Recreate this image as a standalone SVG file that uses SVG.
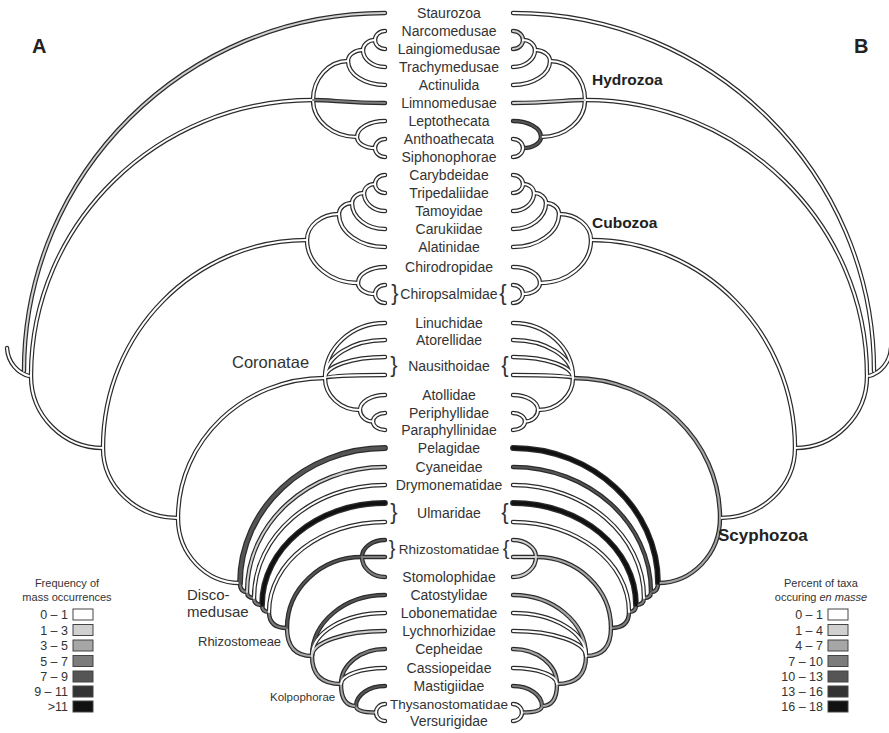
<svg xmlns="http://www.w3.org/2000/svg" xmlns:xlink="http://www.w3.org/1999/xlink" width="889" height="733" viewBox="0 0 889 733">
<style>
.o{fill:none;stroke:#2b2b2b;stroke-width:4.4;stroke-linecap:round;stroke-linejoin:round}
.i{fill:none;stroke:#fff;stroke-width:2;stroke-linecap:round;stroke-linejoin:round}
.o .w{stroke-width:5.8}
.i .w{stroke-width:3.4}
.k0{stroke:#fff}.k1{stroke:#d0d0d0}.k2{stroke:#a6a6a6}.k3{stroke:#7c7c7c}.k4{stroke:#555}.k5{stroke:#333}.k6{stroke:#111}
.t{font-family:"Liberation Sans",Arial,sans-serif;font-size:14px;fill:#333;text-anchor:middle}
.br{font-family:"Liberation Sans",Arial,sans-serif;font-size:22px;fill:#333;text-anchor:middle}
.g{font-family:"Liberation Sans",Arial,sans-serif;fill:#222;font-weight:bold}
.c{font-family:"Liberation Sans",Arial,sans-serif;fill:#333}
.lg{font-family:"Liberation Sans",Arial,sans-serif;font-size:11px;fill:#333;text-anchor:middle}
.lv{font-family:"Liberation Sans",Arial,sans-serif;font-size:12.5px;fill:#333;text-anchor:end}
.bx{stroke:#444;stroke-width:1}
</style>
<defs>
<path id="st" d="M385,13 C185.7,13 24,173.4 24,371"/>
<path id="rt" d="M29,376 C18,373 8,363 7,348"/>
<path id="mz" d="M313,100 C157.3,100 31,223.6 31,376 C31,415.7 63.3,448 103,448"/>
<path id="ac" d="M307,240 C194.4,240 103,333.2 103,448 C103,486.6 136.6,518 178,518"/>
<path id="sc" d="M325,378 C243.9,378 178,440.7 178,518 C178,553.9 205.8,583 240,583"/>
<path id="h1" d="M385,31 C379.5,31 375,35 375,40 C375,45 379.5,49 385,49"/>
<path id="h2" d="M375,40 C368.4,40 363,44.5 363,50 C363,59.4 372.9,67 385,67"/>
<path id="h3" d="M363,50 C354.7,50 348,54.9 348,61 C348,74.2 364.6,85 385,85"/>
<path id="hy" d="M348,61 C328.7,61 313,78.5 313,100 C313,120.4 332.7,137 357,137"/>
<path id="lm" d="M385,103 C350,103 330,100 313,100"/>
<path id="h4" d="M385,121 C369.5,121 357,128.2 357,137 C357,143.1 365.1,148 375,148"/>
<path id="h5" d="M385,139 C379.5,139 375,143 375,148 C375,153 379.5,157 385,157"/>
<path id="u1" d="M385,175 C379.5,175 375,179 375,184 C375,189 379.5,193 385,193"/>
<path id="u2" d="M375,184 C368.9,184 364,188 364,193 C364,202.9 373.4,211 385,211"/>
<path id="u3" d="M364,193 C357.4,193 352,197.5 352,203 C352,217.4 366.8,229 385,229"/>
<path id="u4" d="M352,203 C344.8,203 339,207.9 339,214 C339,232.2 359.6,247 385,247"/>
<path id="cu" d="M339,214 C321.3,214 307,225.6 307,240 C307,263.7 329.8,283 358,283"/>
<path id="u6" d="M385,267 C370.1,267 358,274.2 358,283 C358,289.1 365.6,294 375,294"/>
<path id="u5" d="M385,285 C379.5,285 375,289 375,294 C375,299 379.5,303 385,303"/>
<path id="co1" d="M385,323 C351.9,323 325,347.6 325,378"/>
<path id="co2" d="M385,340 C351.9,340 325,357 325,378"/>
<path id="co3" d="M385,357 C351.9,357 325,366.4 325,378"/>
<path id="co4" d="M385,375 C351.9,375 325,376.3 325,378"/>
<path id="co5" d="M325,378 C325,395.7 340.7,410 360,410"/>
<path id="co6" d="M385,395 C371.2,395 360,401.7 360,410 C360,416.1 365.8,421.5 373,421.5"/>
<path id="co7" d="M385,413 C378.4,413 373,416.8 373,421.5 C373,426.2 378.4,430 385,430"/>
<path id="d0" d="M385,448 C305,448 240,508.5 240,583"/>
<path id="d1" d="M385,467 C308.8,467 247,523 247,592"/>
<path id="d2" d="M385,485 C312.7,485 254,535.6 254,598"/>
<path id="d3" d="M385,503 C317.1,503 262,548.7 262,605"/>
<path id="d4" d="M385,522 C321,522 269,562.3 269,612"/>
<path id="d5" d="M362,557 C320.6,557 287,588.8 287,628"/>
<path id="ra" d="M385,540 C372.3,540 362,547.6 362,557"/>
<path id="rb" d="M362,557 C362,568 372.3,577 385,577"/>
<path id="rc" d="M385,557 L362,557"/>
<path id="s1" d="M240,583 Q240,592 247,592 Q247,598 254,598 Q254,605 262,605 Q262,612 269,612 Q269,628 287,628"/>
<path id="s2" d="M287,628 Q287,656 312,656 Q312,684 341,684 Q341,706 356,706 Q356,712.5 376,712.5"/>
<path id="e1" d="M385,595 C344.7,595 312,622.3 312,656"/>
<path id="e2" d="M385,613 C344.7,613 312,632.3 312,656"/>
<path id="e3" d="M385,631 C344.7,631 312,642.2 312,656"/>
<path id="e4" d="M385,649 C360.7,649 341,664.7 341,684"/>
<path id="e5" d="M385,668 C360.7,668 341,675.2 341,684"/>
<path id="e6" d="M385,686 C369,686 356,695 356,706"/>
<path id="e7" d="M385,704 C380,704 376,707.8 376,712.5 C376,717.2 380,721 385,721"/>
</defs>
<rect width="889" height="733" fill="#fff"/>
<g id="connectors">
<g id="tree-A">
<g class="o">
<use href="#st"/><use href="#rt"/><use href="#mz"/><use href="#ac"/><use href="#sc"/>
<use href="#h1"/><use href="#h2"/><use href="#h3"/><use href="#hy"/><use href="#lm"/><use href="#h4"/><use href="#h5"/>
<use href="#u1"/><use href="#u2"/><use href="#u3"/><use href="#u4"/><use href="#cu"/><use href="#u6"/><use href="#u5"/>
<use href="#co1"/><use href="#co2"/><use href="#co3"/><use href="#co4"/><use href="#co5"/><use href="#co6"/><use href="#co7"/>
<use href="#d0" class="w"/><use href="#d1"/><use href="#d2"/><use href="#d3" class="w"/><use href="#d4"/><use href="#d5"/>
<use href="#ra"/><use href="#rb"/><use href="#rc"/><use href="#s1"/><use href="#s2"/>
<use href="#e1"/><use href="#e2"/><use href="#e3"/><use href="#e4"/><use href="#e5"/><use href="#e6"/><use href="#e7"/>
</g>
<g class="i">
<use href="#st" class="k1"/><use href="#rt" class="k0"/><use href="#mz" class="k0"/><use href="#ac" class="k0"/><use href="#sc" class="k0"/>
<use href="#h1" class="k0"/><use href="#h2" class="k0"/><use href="#h3" class="k0"/><use href="#hy" class="k0"/><use href="#lm" class="k3"/><use href="#h4" class="k0"/><use href="#h5" class="k0"/>
<use href="#u1" class="k0"/><use href="#u2" class="k0"/><use href="#u3" class="k0"/><use href="#u4" class="k0"/><use href="#cu" class="k0"/><use href="#u6" class="k0"/><use href="#u5" class="k0"/>
<use href="#co1" class="k0"/><use href="#co2" class="k0"/><use href="#co3" class="k0"/><use href="#co4" class="k0"/><use href="#co5" class="k0"/><use href="#co6" class="k0"/><use href="#co7" class="k0"/>
<use href="#s1" class="k3"/><use href="#s2" class="k2"/>
<use href="#d0" class="k4 w"/><use href="#d1" class="k1"/><use href="#d2" class="k0"/><use href="#d3" class="k6 w"/><use href="#d4" class="k0"/><use href="#d5" class="k4"/>
<use href="#ra" class="k4"/><use href="#rb" class="k3"/><use href="#rc" class="k3"/>
<use href="#e1" class="k4"/><use href="#e2" class="k0"/><use href="#e3" class="k1"/><use href="#e4" class="k3"/><use href="#e5" class="k0"/><use href="#e6" class="k4"/><use href="#e7" class="k0"/>
</g>
</g>
<g id="tree-B" transform="matrix(-1 0 0 1 898 0)">
<g class="o">
<use href="#st"/><use href="#rt"/><use href="#mz"/><use href="#ac"/><use href="#sc"/>
<use href="#h1"/><use href="#h2"/><use href="#h3"/><use href="#hy"/><use href="#lm"/><use href="#h4"/><use href="#h5"/>
<use href="#u1"/><use href="#u2"/><use href="#u3"/><use href="#u4"/><use href="#cu"/><use href="#u6"/><use href="#u5"/>
<use href="#co1"/><use href="#co2"/><use href="#co3"/><use href="#co4"/><use href="#co5"/><use href="#co6"/><use href="#co7"/>
<use href="#d0" class="w"/><use href="#d1"/><use href="#d2"/><use href="#d3" class="w"/><use href="#d4"/><use href="#d5"/>
<use href="#ra"/><use href="#rb"/><use href="#rc"/><use href="#s1"/><use href="#s2"/>
<use href="#e1"/><use href="#e2"/><use href="#e3"/><use href="#e4"/><use href="#e5"/><use href="#e6"/><use href="#e7"/>
</g>
<g class="i">
<use href="#st" class="k0"/><use href="#rt" class="k0"/><use href="#mz" class="k0"/><use href="#ac" class="k0"/><use href="#sc" class="k2"/>
<use href="#h1" class="k1"/><use href="#h2" class="k0"/><use href="#h3" class="k0"/><use href="#hy" class="k0"/><use href="#lm" class="k1"/><use href="#h4" class="k4"/><use href="#h5" class="k0"/>
<use href="#u1" class="k0"/><use href="#u2" class="k0"/><use href="#u3" class="k0"/><use href="#u4" class="k0"/><use href="#cu" class="k0"/><use href="#u6" class="k0"/><use href="#u5" class="k0"/>
<use href="#co1" class="k0"/><use href="#co2" class="k0"/><use href="#co3" class="k0"/><use href="#co4" class="k0"/><use href="#co5" class="k0"/><use href="#co6" class="k0"/><use href="#co7" class="k0"/>
<use href="#s1" class="k3"/><use href="#s2" class="k2"/>
<use href="#d0" class="k6 w"/><use href="#d1" class="k4"/><use href="#d2" class="k0"/><use href="#d3" class="k6 w"/><use href="#d4" class="k0"/><use href="#d5" class="k2"/>
<use href="#ra" class="k1"/><use href="#rb" class="k1"/><use href="#rc" class="k1"/>
<use href="#e1" class="k2"/><use href="#e2" class="k0"/><use href="#e3" class="k0"/><use href="#e4" class="k2"/><use href="#e5" class="k0"/><use href="#e6" class="k3"/><use href="#e7" class="k0"/>
</g>
</g>
</g>
<g id="taxa">
<g id="n-staurozoa"><text class="t" x="449" y="18">Staurozoa</text></g>
<g id="n-narcomedusae"><text class="t" x="449" y="36">Narcomedusae</text></g>
<g id="n-laingiomedusae"><text class="t" x="449" y="54">Laingiomedusae</text></g>
<g id="n-trachymedusae"><text class="t" x="449" y="72">Trachymedusae</text></g>
<g id="n-actinulida"><text class="t" x="449" y="90">Actinulida</text></g>
<g id="n-limnomedusae"><text class="t" x="449" y="108">Limnomedusae</text></g>
<g id="n-leptothecata"><text class="t" x="449" y="126">Leptothecata</text></g>
<g id="n-anthoathecata"><text class="t" x="449" y="144">Anthoathecata</text></g>
<g id="n-siphonophorae"><text class="t" x="449" y="162">Siphonophorae</text></g>
<g id="n-carybdeidae"><text class="t" x="449" y="180">Carybdeidae</text></g>
<g id="n-tripedaliidae"><text class="t" x="449" y="198">Tripedaliidae</text></g>
<g id="n-tamoyidae"><text class="t" x="449" y="216">Tamoyidae</text></g>
<g id="n-carukiidae"><text class="t" x="449" y="234">Carukiidae</text></g>
<g id="n-alatinidae"><text class="t" x="449" y="252">Alatinidae</text></g>
<g id="n-chirodropidae"><text class="t" x="449" y="272">Chirodropidae</text></g>
<g id="n-chiropsalmidae"><text class="br" x="395" y="300">}</text><text class="t" x="449" y="299">Chiropsalmidae</text><text class="br" x="503" y="300">{</text></g>
<g id="n-linuchidae"><text class="t" x="449" y="328">Linuchidae</text></g>
<g id="n-atorellidae"><text class="t" x="449" y="345">Atorellidae</text></g>
<g id="n-nausithoidae"><text class="br" x="394" y="372">}</text><text class="t" x="449" y="371">Nausithoidae</text><text class="br" x="505" y="372">{</text></g>
<g id="n-atollidae"><text class="t" x="449" y="400">Atollidae</text></g>
<g id="n-periphyllidae"><text class="t" x="449" y="418">Periphyllidae</text></g>
<g id="n-paraphyllinidae"><text class="t" x="449" y="435">Paraphyllinidae</text></g>
<g id="n-pelagidae"><text class="t" x="449" y="453">Pelagidae</text></g>
<g id="n-cyaneidae"><text class="t" x="449" y="472">Cyaneidae</text></g>
<g id="n-drymonematidae"><text class="t" x="449" y="490">Drymonematidae</text></g>
<g id="n-ulmaridae"><text class="br" x="394" y="519">}</text><text class="t" x="449" y="518">Ulmaridae</text><text class="br" x="505" y="519">{</text></g>
<g id="n-rhizostomatidae"><text class="br" x="392" y="555" style="font-size:20px">}</text><text class="t" x="449" y="554" style="font-size:13.5px">Rhizostomatidae</text><text class="br" x="506" y="555" style="font-size:20px">{</text></g>
<g id="n-stomolophidae"><text class="t" x="449" y="582">Stomolophidae</text></g>
<g id="n-catostylidae"><text class="t" x="449" y="600">Catostylidae</text></g>
<g id="n-lobonematidae"><text class="t" x="449" y="618">Lobonematidae</text></g>
<g id="n-lychnorhizidae"><text class="t" x="449" y="636">Lychnorhizidae</text></g>
<g id="n-cepheidae"><text class="t" x="449" y="654">Cepheidae</text></g>
<g id="n-cassiopeidae"><text class="t" x="449" y="673">Cassiopeidae</text></g>
<g id="n-mastigiidae"><text class="t" x="449" y="691">Mastigiidae</text></g>
<g id="n-thysanostomatidae"><text class="t" x="449" y="709" style="font-size:13.5px">Thysanostomatidae</text></g>
<g id="n-versurigidae"><text class="t" x="449" y="726">Versurigidae</text></g>
</g>
<g id="clades">
<g id="c-hydrozoa"><text class="g" x="592" y="85" font-size="15.5">Hydrozoa</text></g>
<g id="c-cubozoa"><text class="g" x="592" y="228" font-size="15.5">Cubozoa</text></g>
<g id="c-scyphozoa"><text class="g" x="718" y="541" font-size="17">Scyphozoa</text></g>
<g id="c-coronatae"><text class="c" x="232" y="368" font-size="16.5">Coronatae</text></g>
<g id="c-discomedusae"><text class="c" font-size="15"><tspan x="187" y="600">Disco-</tspan><tspan x="187" y="617">medusae</tspan></text></g>
<g id="c-rhizostomeae"><text class="c" x="198" y="646" font-size="13">Rhizostomeae</text></g>
<g id="c-kolpophorae"><text class="c" x="270" y="701" font-size="11.5">Kolpophorae</text></g>
<g id="panel-a"><text class="g" x="32" y="53" font-size="20">A</text></g>
<g id="panel-b"><text class="g" x="854" y="53" font-size="20">B</text></g>
</g>
<g id="legend-A">
<text class="lg" x="67" y="587">Frequency of</text>
<text class="lg" x="67" y="601">mass occurrences</text>
<rect class="bx" x="73" y="609" width="20" height="11" fill="#fff"/>
<rect class="bx" x="73" y="624.5" width="20" height="11" fill="#d0d0d0"/>
<rect class="bx" x="73" y="640" width="20" height="11" fill="#a6a6a6"/>
<rect class="bx" x="73" y="655.5" width="20" height="11" fill="#7c7c7c"/>
<rect class="bx" x="73" y="671" width="20" height="11" fill="#555"/>
<rect class="bx" x="73" y="686" width="20" height="11" fill="#333"/>
<rect class="bx" x="73" y="701" width="20" height="11" fill="#111"/>
<text class="lv" x="68" y="619">0 – 1</text>
<text class="lv" x="68" y="634.5">1 – 3</text>
<text class="lv" x="68" y="650">3 – 5</text>
<text class="lv" x="68" y="665.5">5 – 7</text>
<text class="lv" x="68" y="681">7 – 9</text>
<text class="lv" x="68" y="696">9 – 11</text>
<text class="lv" x="68" y="711">&gt;11</text>
</g>
<g id="legend-B">
<text class="lg" x="821" y="587">Percent of taxa</text>
<text class="lg" x="821" y="601">occuring <tspan font-style="italic">en masse</tspan></text>
<rect class="bx" x="828" y="609" width="20" height="11" fill="#fff"/>
<rect class="bx" x="828" y="624.5" width="20" height="11" fill="#d0d0d0"/>
<rect class="bx" x="828" y="640" width="20" height="11" fill="#a6a6a6"/>
<rect class="bx" x="828" y="655.5" width="20" height="11" fill="#7c7c7c"/>
<rect class="bx" x="828" y="671" width="20" height="11" fill="#555"/>
<rect class="bx" x="828" y="686" width="20" height="11" fill="#333"/>
<rect class="bx" x="828" y="701" width="20" height="11" fill="#111"/>
<text class="lv" x="823" y="619">0 – 1</text>
<text class="lv" x="823" y="634.5">1 – 4</text>
<text class="lv" x="823" y="650">4 – 7</text>
<text class="lv" x="823" y="665.5">7 – 10</text>
<text class="lv" x="823" y="681">10 – 13</text>
<text class="lv" x="823" y="696">13 – 16</text>
<text class="lv" x="823" y="711">16 – 18</text>
</g>
</svg>
